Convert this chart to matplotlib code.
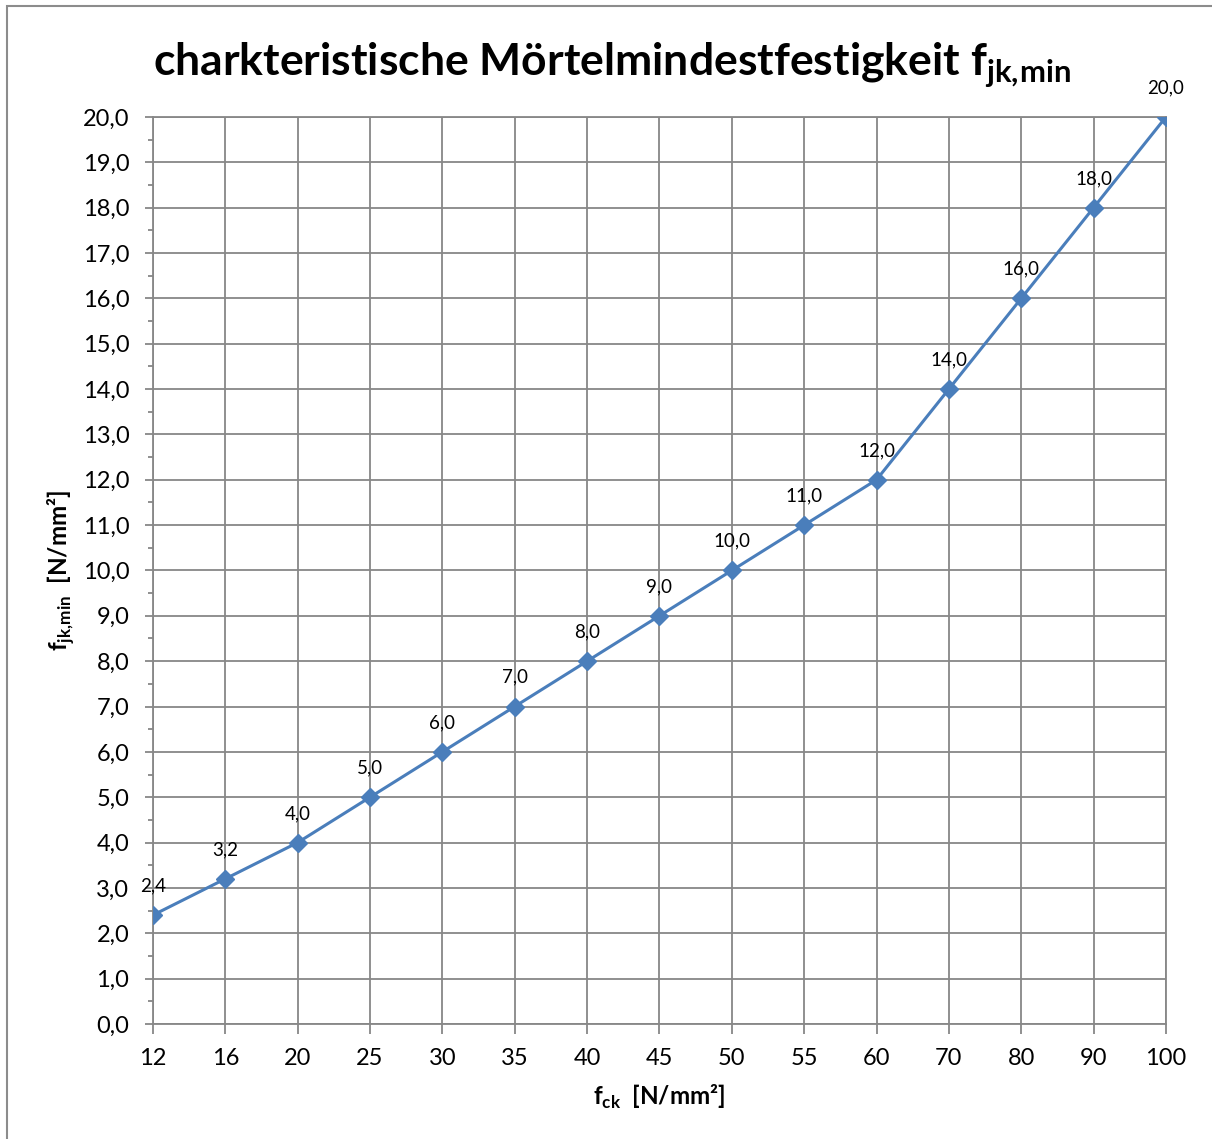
import matplotlib.pyplot as plt
from matplotlib.ticker import MultipleLocator, FuncFormatter
from matplotlib.patches import Rectangle

plt.rcParams['font.family'] = ['Lato', 'DejaVu Sans']
plt.rcParams['mathtext.fontset'] = 'custom'
plt.rcParams['mathtext.rm'] = 'Lato'
plt.rcParams['mathtext.bf'] = 'Lato:bold'

# Betonfestigkeit und zugehoerige Moertelmindestfestigkeit
fck = ['12', '16', '20', '25', '30', '35', '40', '45', '50', '55', '60', '70', '80', '90', '100']
fjk_min = [2.4, 3.2, 4.0, 5.0, 6.0, 7.0, 8.0, 9.0, 10.0, 11.0, 12.0, 14.0, 16.0, 18.0, 20.0]

grau = '#878787'
blau = '#4A7EBB'

fig = plt.figure(figsize=(12.12, 11.39), dpi=100)
ax = fig.add_axes([0.1262, 0.101, 0.8358, 0.7963])

pos = list(range(len(fck)))
ax.plot(pos, fjk_min, color=blau, lw=2.2, marker='D', ms=9.5, zorder=3)

for p, v in zip(pos, fjk_min):
    ax.annotate(f'{v:.1f}'.replace('.', ','), (p, v), xytext=(0, 21),
                textcoords='offset points', ha='center', va='center',
                fontsize=13.5, annotation_clip=False)

ax.set_xlim(0, len(fck) - 1)
ax.set_ylim(0, 20)
ax.set_xticks(pos)
ax.set_xticklabels(fck)
ax.yaxis.set_major_locator(MultipleLocator(1))
ax.yaxis.set_minor_locator(MultipleLocator(0.5))
ax.yaxis.set_major_formatter(FuncFormatter(lambda v, _: f'{v:.1f}'.replace('.', ',')))

ax.grid(True, which='major', color=grau, lw=1.3)
ax.set_axisbelow(True)
for s in ax.spines.values():
    s.set_color(grau)
    s.set_linewidth(1.3)

ax.tick_params(axis='both', which='major', labelsize=17, color=grau, width=1.3)
ax.tick_params(axis='y', which='major', length=6, pad=11)
ax.tick_params(axis='y', which='minor', length=3.5, color=grau, width=1.3)
ax.tick_params(axis='x', which='major', length=7, pad=10)

ax.set_xlabel(r'$\mathbf{f}_{\mathbf{ck}}$  [N/mm²]', fontsize=17.5, fontweight='bold', labelpad=10)
ax.set_ylabel(r'$\mathbf{f}_{\mathbf{jk,\!min}}$  [N/mm²]', fontsize=17.5, fontweight='bold', labelpad=4)

fig.text(0.505, 0.943, r'charkteristische Mörtelmindestfestigkeit $\mathbf{f}_{\mathbf{jk,\!min}}$',
         ha='center', va='center', fontsize=32, fontweight='bold')

# Rahmen des Diagrammbereichs
fig.patches.append(Rectangle((7 / 1212, -0.1), 1.2, 1 - 6 / 1139 + 0.1, transform=fig.transFigure,
                             fill=False, edgecolor='#8c8c8c', lw=1.5))

fig.savefig('out.png', dpi=100)
